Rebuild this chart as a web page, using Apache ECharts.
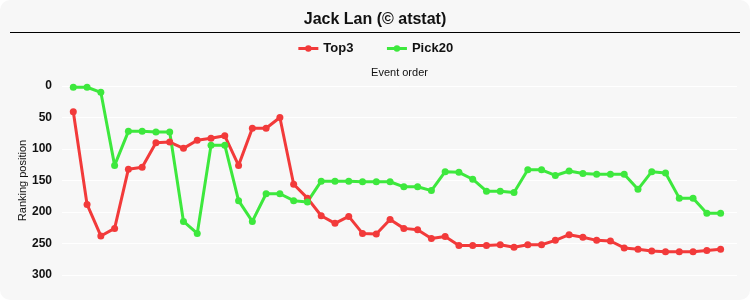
<!DOCTYPE html>
<html>
<head>
<meta charset="utf-8">
<script src="https://cdn.jsdelivr.net/npm/echarts@6/dist/echarts.min.js"></script>
<style>
html,body{margin:0;padding:0;background:#ffffff;}
#wrap{position:absolute;left:0;top:0;width:750px;height:300px;background:#f7f7f7;border-radius:10px;overflow:hidden;}
#chart{width:750px;height:300px;}
</style>
</head>
<body>
<div id="wrap"><div id="chart"></div></div>
<script>
const titleText = 'Jack Lan (© atstat)';
const seriesNames = ['Top3', 'Pick20'];
const top3 = [41,188,238,226,132,129,90,89,99,86,83,79,126,67,67,50,156,178,206,218,207,234,235,212,226,228,242,239,253,253,253,252,256,252,252,245,236,240,245,246,257,259,262,263,263,263,261,259];
const pick20 = [2,2,10,126,72,72,73,73,215,234,94,94,182,215,171,171,182,184,151,151,151,152,152,152,160,160,166,136,137,148,167,167,169,133,133,142,135,139,140,140,140,164,136,138,178,178,202,202];
const yTicks = [0,50,100,150,200,250,300];

const chart = echarts.init(document.getElementById('chart'), null, {renderer:'canvas'});
const toPairs = arr => arr.map((v,i)=>[i,v]);
const font = '"Liberation Sans", Arial, sans-serif';
chart.setOption({
  backgroundColor: 'transparent',
  animation: false,
  textStyle: {fontFamily: font},
  title: {
    text: titleText, left: 'center', top: 7,
    textStyle: {fontSize: 16, fontWeight: 'bold', color: '#111', fontFamily: font}
  },
  graphic: [{
    type: 'line', shape: {x1: 10, y1: 32.5, x2: 740, y2: 32.5},
    style: {stroke: '#000', lineWidth: 1}
  }],
  legend: {
    top: 37, left: 'center', itemWidth: 20, itemHeight: 8, itemGap: 32,
    data: seriesNames,
    lineStyle: {width: 3},
    textStyle: {fontSize: 13, fontWeight: 'bold', color: '#111', fontFamily: font}
  },
  grid: {left: 62, right: 13, top: 86, bottom: 25},
  xAxis: {
    type: 'value', position: 'top', min: -0.82, max: 48.19,
    name: 'Event order', nameLocation: 'middle', nameGap: 8,
    nameTextStyle: {fontSize: 11, color: '#111', fontFamily: font},
    axisLine: {show: false}, axisTick: {show: false}, axisLabel: {show: false},
    splitLine: {show: false}
  },
  yAxis: {
    type: 'value', inverse: true, min: yTicks[0], max: yTicks[yTicks.length-1], interval: 50,
    name: 'Ranking position', nameLocation: 'middle', nameGap: 34, nameMoveOverlap: false,
    nameTextStyle: {fontSize: 11, color: '#111', fontFamily: font},
    axisLine: {show: false}, axisTick: {show: false},
    axisLabel: {fontSize: 12, fontWeight: 'bold', color: '#111', margin: 10, fontFamily: font},
    splitLine: {show: true, lineStyle: {color: '#ffffff', width: 1}}
  },
  series: [
    {name: seriesNames[0], type: 'line', data: toPairs(top3), symbol: 'circle', symbolSize: 7,
     itemStyle: {color: '#f23a3a'}, lineStyle: {width: 3, color: '#f23a3a'}},
    {name: seriesNames[1], type: 'line', data: toPairs(pick20), symbol: 'circle', symbolSize: 7,
     itemStyle: {color: '#3de83d'}, lineStyle: {width: 3, color: '#3de83d'}}
  ]
});
</script>
</body>
</html>
